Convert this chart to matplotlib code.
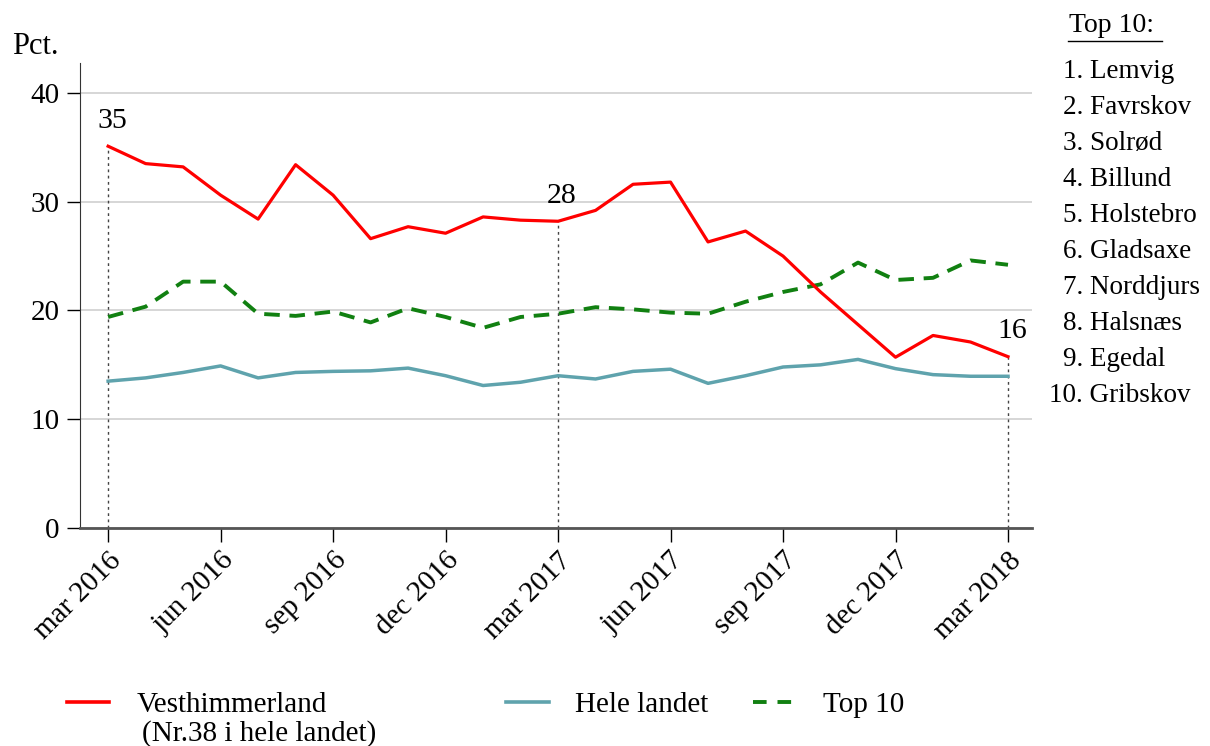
import matplotlib.pyplot as plt
from matplotlib.lines import Line2D

plt.rcParams["font.family"] = ["Liberation Serif", "DejaVu Serif"]

months = list(range(25))  # mar 2016 .. mar 2018
tick_pos = list(range(0, 25, 3))
tick_labels = ["mar 2016", "jun 2016", "sep 2016", "dec 2016", "mar 2017",
               "jun 2017", "sep 2017", "dec 2017", "mar 2018"]

vesthimmerland = [35.1, 33.5, 33.2, 30.6, 28.4, 33.4, 30.6, 26.6, 27.7, 27.1,
                  28.6, 28.3, 28.2, 29.2, 31.6, 31.8, 26.3, 27.3, 25.0, 21.7,
                  18.7, 15.7, 17.7, 17.1, 15.75]
hele_landet = [13.5, 13.8, 14.3, 14.9, 13.8, 14.3, 14.4, 14.45, 14.7, 14.0,
               13.1, 13.4, 14.0, 13.7, 14.4, 14.6, 13.3, 14.0, 14.8, 15.0,
               15.5, 14.65, 14.1, 13.95, 13.95]
top10 = [19.4, 20.35, 22.65, 22.65, 19.7, 19.5, 19.9, 18.9, 20.2, 19.4,
         18.4, 19.4, 19.7, 20.3, 20.1, 19.8, 19.7, 20.8, 21.7, 22.4,
         24.4, 22.8, 23.0, 24.6, 24.2]

label_idx = [0, 12, 24]
label_text = ["35", "28", "16"]

top10_names = ["Lemvig", "Favrskov", "Solrød", "Billund", "Holstebro",
               "Gladsaxe", "Norddjurs", "Halsnæs", "Egedal", "Gribskov"]

red = "#ff0000"
teal = "#5fa3ad"
green = "#118011"

W, H = 1210, 746
fig = plt.figure(figsize=(W / 100, H / 100), dpi=100)
ax = fig.add_axes([80 / W, 1 - 528 / H, (1032 - 80) / W, (528 - 63) / H])

ax.set_xlim(-0.75, 24.64)
ax.set_ylim(0, 42.75)
ax.set_yticks([0, 10, 20, 30, 40])
ax.grid(True, axis="y", color="#d0d0d0", linewidth=1.2)
ax.set_axisbelow(True)

for i in label_idx:
    ax.plot([i, i], [0, vesthimmerland[i]], color="#444444", linestyle=(0, (2, 2.5)),
            linewidth=1.0, zorder=1)

ax.plot(months, hele_landet, color=teal, linewidth=2.5, zorder=3)
ax.plot(months, top10, color=green, linewidth=2.8, linestyle=(0, (4, 2.5)), zorder=3)
ax.plot(months, vesthimmerland, color=red, linewidth=2.3, zorder=4)

for i, t in zip(label_idx, label_text):
    ax.text(i + 0.1, vesthimmerland[i] + 1.7, t, fontsize=21.5, ha="center", va="baseline")

ax.set_xticks(tick_pos)
ax.set_xticklabels(tick_labels, rotation=45, ha="right", rotation_mode="anchor", fontsize=21)
ax.tick_params(axis="x", length=10, width=1, pad=4)
ax.tick_params(axis="y", length=9.5, width=1, labelsize=21, pad=5)

for s in ["top", "right"]:
    ax.spines[s].set_visible(False)
ax.spines["left"].set_color("#333333")
ax.spines["bottom"].set_color("#555555")
ax.spines["bottom"].set_linewidth(2.0)

fig.text(12 / W, 1 - 54 / H, "Pct.", fontsize=22, va="baseline")

# legend
leg_y = 1 - 702 / H
base1 = 1 - 712 / H
base2 = 1 - 741 / H
fig.add_artist(Line2D([67 / W, 109 / W], [leg_y, leg_y], color=red, linewidth=2.6))
fig.text(137 / W, base1, "Vesthimmerland", fontsize=21, va="baseline")
fig.text(142 / W, base2, "(Nr.38 i hele landet)", fontsize=21, va="baseline")
fig.add_artist(Line2D([506 / W, 549 / W], [leg_y, leg_y], color=teal, linewidth=2.6))
fig.text(575 / W, base1, "Hele landet", fontsize=21, va="baseline")
fig.add_artist(Line2D([753 / W, 792 / W], [leg_y, leg_y], color=green, linewidth=2.8,
                      linestyle=(0, (3.5, 2.8))))
fig.text(823 / W, base1, "Top 10", fontsize=21, va="baseline")

# top 10 list
fig.text(1069 / W, 1 - 25 / H, "Top 10:", fontsize=20, va="center")
fig.add_artist(Line2D([1068 / W, 1162 / W], [1 - 41 / H, 1 - 41 / H],
                      color="black", linewidth=1.0))
for k, name in enumerate(top10_names):
    y = 1 - (72 + 35.9 * k) / H
    x = 1063 if k < 9 else 1049
    fig.text(x / W, y, f"{k + 1}. {name}", fontsize=19.5, va="center")

fig.savefig("out.png", dpi=100)
